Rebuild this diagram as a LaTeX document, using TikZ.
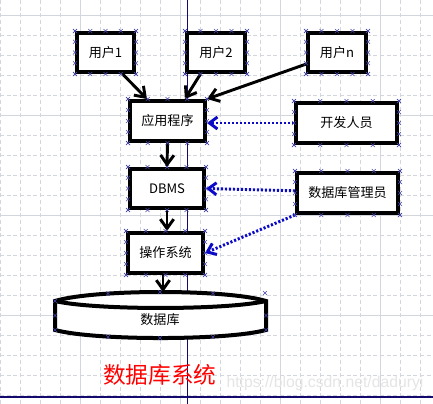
\documentclass[tikz,border=0pt]{standalone}
\usepackage{fontspec}
\newfontfamily\cjk{Noto Sans CJK SC}
\newfontfamily\wm{Liberation Sans}
\usetikzlibrary{arrows.meta,calc}
\definecolor{gridc}{RGB}{212,214,222}
\definecolor{navyl}{RGB}{20,10,110}
\definecolor{xmc}{RGB}{70,70,170}
\definecolor{dotblue}{RGB}{10,10,200}
\tikzset{
  box/.style 2 args={draw=black, line width=3pt, fill=white, minimum width={#1*0.75pt}, minimum height={#2*0.75pt}, inner sep=0pt, font=\cjk\fontsize{9.8pt}{11pt}\selectfont},
  blackarrow/.style={line width=2.2pt, -{Straight Barb[length=7pt,width=10pt]}},
  bluearrow/.style={draw=dotblue, line width=2.2pt, dash pattern=on 1.6pt off 1.4pt, -{Straight Barb[length=6pt,width=9pt]}},
  xm/.pic={\draw[xmc, line width=0.5pt] (-2,-2)--(2,2) (-2,2)--(2,-2);},
}
\begin{document}
\begin{tikzpicture}[x=0.75pt,y=-0.75pt]
\useasboundingbox (0,0) rectangle (433,404);
\fill[white] (0,0) rectangle (433,404);
% grid
\foreach \gx in {0,20,...,420} {\draw[gridc, line width=0.6pt, dash pattern=on 3pt off 2pt] (\gx,0) -- (\gx,404);}
\foreach \gy in {15,35,...,395} {\draw[gridc, line width=0.6pt, dash pattern=on 3pt off 2pt] (0,\gy) -- (433,\gy);}
\foreach \gx in {80,180,280,380} {\draw[gridc, line width=0.7pt] (\gx,0) -- (\gx,404);}
\foreach \gy in {15,115,215,315} {\draw[gridc, line width=0.7pt] (0,\gy) -- (433,\gy);}
% guide lines
\draw[navyl, line width=0.9pt] (187.5,0) -- (187.5,404);
\draw[navyl, line width=0.9pt] (0,397) -- (433,397);
% watermark
\node[text=black!10, font=\wm\fontsize{11.8pt}{13pt}\selectfont, inner sep=0pt] (wmk) at (325,383) {https://blog.csdn.net/daduryi};
% boxes
\node[box={57}{39}] (u1) at (105.5,52.5) {用户1};
\node[box={58}{39}] (u2) at (216,52.5) {用户2};
\node[box={58}{39}] (un) at (337,52.5) {用户n};
\node[box={75}{40}] (app) at (167.5,121) {应用程序};
\node[box={74}{39}] (dbms) at (167,188.5) {DBMS};
\node[box={101}{40}] (dev) at (346.5,123) {开发人员};
\node[box={101}{40}] (dba) at (347.5,193) {数据库管理员};
\node[box={75}{40}] (os) at (165.5,253) {操作系统};
% database shape
\draw[line width=3pt, fill=white] (55,301) .. controls (95,289) and (226,289) .. (266,301) -- (266,330) .. controls (226,340.7) and (95,340.7) .. (55,330) -- cycle;
\draw[line width=3pt] (55,301) .. controls (95,310.3) and (226,310.3) .. (266,301);
\coordinate (dbtop) at (163,292);
\node[font=\cjk\fontsize{9.8pt}{11pt}\selectfont, inner sep=0pt] (db) at (160,320) {数据库};
% title
\node[text=red, font=\cjk\fontsize{17pt}{20pt}\selectfont, inner sep=0pt] (title) at (160,375) {数据库系统};
% black arrows
\draw[blackarrow] ($(u1.south west)!0.78!(u1.south east)$) -- ($(app.north west)!0.24!(app.north east)$);
\draw[blackarrow] ($(u2.south west)!0.25!(u2.south east)$) -- ($(app.north west)!0.72!(app.north east)$);
\draw[blackarrow] ($(un.north west)!0.77!(un.south west)$) -- (app.north east);
\draw[blackarrow] (app.south) -- (dbms.north);
\draw[blackarrow] (dbms.south) -- (dbms.south |- os.north);
\draw[blackarrow] (os.south -| dbtop) -- (dbtop);
% blue dotted arrows
\draw[bluearrow] (dev.west) -- (dev.west -| app.east);
\draw[bluearrow] ($(dba.north west)!0.45!(dba.south west)$) -- (dbms.east);
\draw[bluearrow] (dba.south west) -- (os.east);
% connection marks
\foreach \n in {u1,u2,un,app,dbms,dev,dba,os} {
  \foreach \t in {0,0.25,0.5,0.75,1} {
    \path ($(\n.north west)!\t!(\n.north east)$) pic{xm};
    \path ($(\n.south west)!\t!(\n.south east)$) pic{xm};
    \path ($(\n.north west)!\t!(\n.south west)$) pic{xm};
    \path ($(\n.north east)!\t!(\n.south east)$) pic{xm};
  }
}
\foreach \p in {(55,301),(55,315.5),(55,330),(266,315.5),(266,330),(108,293.5),(160,292),(213,293.5),(108,337),(160,338),(213,337)} {\path \p pic{xm};}
\path (265,293) pic{xm};
\end{tikzpicture}
\end{document}
